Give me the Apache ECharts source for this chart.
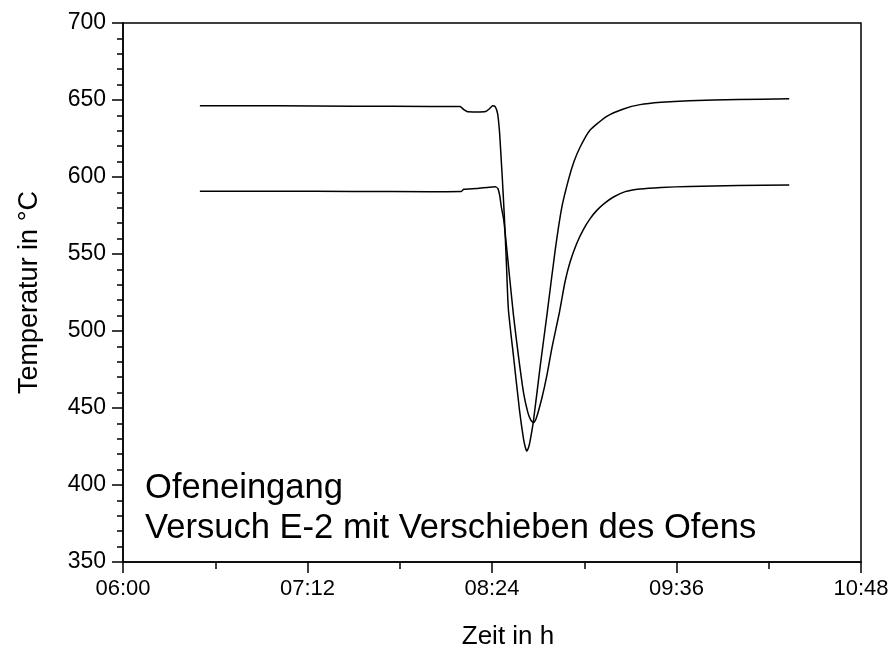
<!DOCTYPE html>
<html><head><meta charset="utf-8">
<script src="https://cdn.jsdelivr.net/npm/echarts@6/dist/echarts.min.js"></script>
<style>html,body{margin:0;padding:0;background:#fff}#c{width:894px;height:655px}</style>
</head><body><div id="c"></div>
<script>
// Tick labels of the time axis
const xTickLabels = ['06:00', '07:12', '08:24', '09:36', '10:48'];
const yTickValues = [350, 400, 450, 500, 550, 600, 650, 700];

// Upper curve (clock time, °C)
const upperTime = ['06:30:00','07:00:00','07:30:00','08:00:00','08:11:30','08:13:00','08:14:30','08:18:00','08:21:30','08:23:00','08:24:18','08:25:18','08:26:12','08:26:54','08:27:30','08:28:00','08:28:48','08:29:36','08:30:24','08:32:30','08:34:42','08:36:18','08:37:00','08:37:36','08:38:12','08:38:48','08:40:12','08:42:48','08:45:24','08:48:42','08:51:12','08:53:48','08:56:00','08:58:24','09:02:18','09:08:48','09:15:18','09:21:48','09:30:00','09:41:00','10:00:00','10:20:00'];
const upperTemp = [646.3,646.2,646.0,645.8,645.7,643.8,642.3,642.2,642.5,644.3,646.2,645.5,641,630,614,600,575,545,514,482,449,430,424.5,422,424,428,442,477,510,553,580,598,610,619.5,630.5,639.4,644.2,647,648.5,649.5,650.3,650.8];

// Lower curve (clock time, °C)
const lowerTime = ['06:30:00','07:00:00','07:30:00','08:00:00','08:12:00','08:13:00','08:18:00','08:23:00','08:25:18','08:26:18','08:27:00','08:27:36','08:28:36','08:30:30','08:32:24','08:34:18','08:36:18','08:38:00','08:39:12','08:40:12','08:41:12','08:43:24','08:45:24','08:47:30','08:50:18','08:52:30','08:54:30','08:57:06','08:59:42','09:02:18','09:05:00','09:08:00','09:11:24','09:16:00','09:21:48','09:30:00','09:41:00','10:00:00','10:20:00'];
const lowerTemp = [590.8,590.8,590.6,590.5,590.6,592.0,592.5,593.4,593.6,592.5,588,581,572,541,510,484,460,447,442,440.5,443,456,471,490,512,532,545,557,566,573,578.5,583,587,590.5,592.2,593.2,593.9,594.5,594.8];

const annotationLines = ['Ofeneingang', 'Versuch E-2 mit Verschieben des Ofens'];
const xName = 'Zeit in h';
const yName = 'Temperatur in °C';

function toMin(s) {
  const p = s.split(':').map(Number);
  return p[0] * 60 + p[1] + (p[2] || 0) / 60;
}
function fmt(v) {
  const h = Math.floor(v / 60), m = Math.round(v - h * 60);
  return String(h).padStart(2, '0') + ':' + String(m).padStart(2, '0');
}
const FONT = '"Liberation Sans", Arial, sans-serif';
const upperData = upperTime.map((t, i) => [toMin(t), upperTemp[i]]);
const lowerData = lowerTime.map((t, i) => [toMin(t), lowerTemp[i]]);
const xMin = toMin(xTickLabels[0]);
const xMax = toMin(xTickLabels[xTickLabels.length - 1]);

const chart = echarts.init(document.getElementById('c'), null, { renderer: 'canvas' });
chart.setOption({
  animation: false,
  backgroundColor: '#fff',
  grid: { left: 123, right: 33, top: 23, bottom: 93, show: true, borderColor: '#000', borderWidth: 1.5, backgroundColor: 'transparent' },
  xAxis: {
    type: 'value', min: xMin, max: xMax, interval: 72,
    name: xName, nameLocation: 'middle', nameGap: 62,
    nameTextStyle: { fontFamily: FONT, fontSize: 26, color: '#000', padding: [0, 0, 0, 32] },
    axisLine: { show: true, lineStyle: { color: '#000', width: 1.5 } },
    axisTick: { show: true, length: 11, lineStyle: { color: '#000', width: 1.5 } },
    minorTick: { show: true, splitNumber: 2, length: 7, lineStyle: { color: '#000', width: 1.5 } },
    axisLabel: { fontFamily: FONT, fontSize: 22, color: '#000', margin: 16, formatter: v => fmt(v) },
    splitLine: { show: false }
  },
  yAxis: {
    type: 'value', min: yTickValues[0], max: yTickValues[yTickValues.length - 1], interval: 50,
    name: yName, nameLocation: 'middle', nameGap: 80, nameRotate: 90,
    nameTextStyle: { fontFamily: FONT, fontSize: 27, color: '#000' },
    axisLine: { show: true, lineStyle: { color: '#000', width: 1.5 } },
    axisTick: { show: true, length: 11, lineStyle: { color: '#000', width: 1.5 } },
    minorTick: { show: true, splitNumber: 5, length: 6, lineStyle: { color: '#000', width: 1.5 } },
    axisLabel: { fontFamily: FONT, fontSize: 23, color: '#000', margin: 17 },
    splitLine: { show: false }
  },
  series: [
    { type: 'line', data: upperData, showSymbol: false, smooth: 0.2, lineStyle: { color: '#000', width: 1.5 } },
    { type: 'line', data: lowerData, showSymbol: false, smooth: 0.2, lineStyle: { color: '#000', width: 1.5 } }
  ],
  graphic: annotationLines.map((t, i) => ({
    type: 'text', x: 145, y: 488 + i * 40,
    style: { text: t, font: '34.6px ' + FONT, fill: '#000', verticalAlign: 'middle' }
  }))
});
</script></body></html>
